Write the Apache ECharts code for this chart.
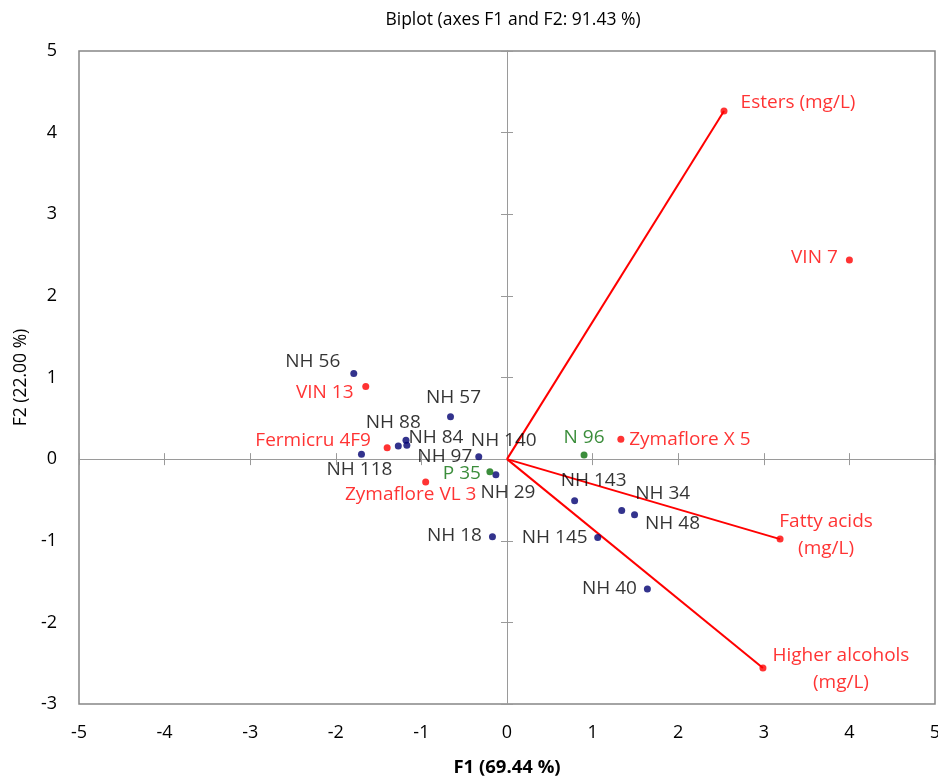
<!DOCTYPE html>
<html>
<head>
<meta charset="utf-8">
<script src="https://cdn.jsdelivr.net/npm/echarts@6/dist/echarts.min.js"></script>
<style>
html,body{margin:0;padding:0;background:#fff;}
#chart{width:938px;height:778px;}
</style>
</head>
<body>
<div id="chart"></div>
<script>
// ---- Data ----
const xTicks = [-5, -4, -3, -2, -1, 0, 1, 2, 3, 4, 5];
const yTicks = [-3, -2, -1, 0, 1, 2, 3, 4, 5];

const blueNames = ['NH 56','NH 57','NH 88','NH 84','NH 97','NH 118','NH 140','NH 29','NH 18','NH 143','NH 34','NH 48','NH 145','NH 40'];
const blueF1 = [-1.79,-0.66,-1.27,-1.18,-1.17,-1.70,-0.33,-0.13,-0.17,0.79,1.34,1.49,1.06,1.64];
const blueF2 = [1.05,0.52,0.16,0.23,0.17,0.06,0.03,-0.19,-0.95,-0.51,-0.63,-0.68,-0.96,-1.59];

const greenNames = ['P 35','N 96'];
const greenF1 = [-0.20,0.90];
const greenF2 = [-0.155,0.05];

const redNames = ['VIN 13','Fermicru 4F9','Zymaflore VL 3','Zymaflore X 5','VIN 7'];
const redF1 = [-1.65,-1.40,-0.95,1.33,4.00];
const redF2 = [0.89,0.14,-0.28,0.245,2.44];

const varNames = ['Esters (mg/L)','Fatty acids\n(mg/L)','Higher alcohols\n(mg/L)'];
const varF1 = [2.535,3.19,2.99];
const varF2 = [4.265,-0.98,-2.56];

// ---- Label placement (layout only, pixel offsets from the marker) ----
const labelOffsets = {
  'NH 56':[-41,-12],'NH 57':[3,-19],'NH 88':[-5,-23],'NH 84':[30,-3],'NH 97':[38,11],
  'NH 118':[-2,15],'NH 140':[25,-16],'NH 29':[12,18],'NH 18':[-38,-1],'NH 143':[19,-20],
  'NH 34':[41,-17],'NH 48':[38,9],'NH 145':[-43,0],'NH 40':[-38,0],
  'P 35':[-28,2],'N 96':[0,-17],
  'VIN 13':[-41,6],'Fermicru 4F9':[-74,-7],'Zymaflore VL 3':[-15,13],'Zymaflore X 5':[69,0],'VIN 7':[-35,-2],
  'Esters (mg/L)':[74,-8],'Fatty acids\n(mg/L)':[46,-4],'Higher alcohols\n(mg/L)':[78,1]
};

const FONT = '"Open Sans", "Noto Sans", sans-serif';

function items(names, xs, ys) {
  return names.map((n, i) => ({
    name: n,
    value: [xs[i], ys[i]],
    label: { offset: labelOffsets[n] || [0, 0] }
  }));
}

function pointSeries(names, xs, ys, color, labelColor) {
  return {
    type: 'scatter',
    data: items(names, xs, ys),
    symbol: 'circle',
    symbolSize: 7,
    itemStyle: { color: color },
    z: 5,
    label: {
      show: true,
      formatter: '{b}',
      position: 'inside',
      align: 'center',
      verticalAlign: 'middle',
      color: labelColor,
      textBorderWidth: 0,
      textBorderColor: 'transparent',
      fontFamily: FONT,
      fontSize: 19,
      lineHeight: 27
    },
    emphasis: { disabled: true }
  };
}

const lineSeries = varNames.map((n, i) => ({
  type: 'line',
  data: [[0, 0], [varF1[i], varF2[i]]],
  symbol: 'none',
  lineStyle: { color: '#ff0000', width: 2 },
  z: 3,
  silent: true
}));

const gridLineColor = '#9a9a9a';
const frameColor = '#868686';

function baseAxis(extra, min, max) {
  return Object.assign({
    type: 'value', min: min, max: max, interval: 1,
    splitLine: { show: false },
    axisTick: { show: false },
    axisLabel: { show: false },
    axisLine: { show: false }
  }, extra);
}

const option = {
  animation: false,
  backgroundColor: '#ffffff',
  title: {
    text: 'Biplot (axes F1 and F2: 91.43 %)',
    left: 508, top: 6,
    textAlign: 'center',
    textStyle: { fontFamily: FONT, fontSize: 17.5, fontWeight: 'normal', color: '#000' }
  },
  grid: {
    left: 79, right: 3, top: 51, bottom: 74,
    outerBoundsMode: 'none',
    containLabel: false,
    show: true, borderColor: frameColor, borderWidth: 1.5, backgroundColor: 'transparent'
  },
  xAxis: [
    baseAxis({
      position: 'bottom',
      axisLine: { show: false, onZero: false },
      axisLabel: { show: true, margin: 20, color: '#000', fontFamily: FONT, fontSize: 18,
        formatter: v => xTicks.includes(v) ? String(v) : '' },
      name: 'F1 (69.44 %)', nameLocation: 'middle', nameGap: 54,
      nameTextStyle: { fontFamily: FONT, fontSize: 18.5, fontWeight: 'bold', color: '#000' }
    }, xTicks[0], xTicks[xTicks.length - 1]),
    baseAxis({
      position: 'bottom',
      axisLine: { show: true, onZero: true, lineStyle: { color: gridLineColor, width: 1 } },
      axisTick: { show: true, inside: true, length: 6, lineStyle: { color: gridLineColor, width: 1 } }
    }, xTicks[0], xTicks[xTicks.length - 1]),
    baseAxis({
      position: 'bottom',
      axisLine: { show: true, onZero: true, lineStyle: { color: gridLineColor, width: 1 } },
      axisTick: { show: true, inside: false, length: 6, lineStyle: { color: gridLineColor, width: 1 } }
    }, xTicks[0], xTicks[xTicks.length - 1])
  ],
  yAxis: [
    baseAxis({
      position: 'left',
      axisLine: { show: false, onZero: false },
      axisLabel: { show: true, margin: 22, color: '#000', fontFamily: FONT, fontSize: 18,
        formatter: v => yTicks.includes(v) ? String(v) : '' },
      name: 'F2 (22.00 %)', nameLocation: 'middle', nameGap: 43, nameRotate: 90,
      nameTextStyle: { fontFamily: FONT, fontSize: 17.5, fontWeight: 'normal', color: '#000' }
    }, yTicks[0], yTicks[yTicks.length - 1]),
    baseAxis({
      position: 'left',
      axisLine: { show: true, onZero: true, lineStyle: { color: gridLineColor, width: 1 } },
      axisTick: { show: true, inside: true, length: 6, lineStyle: { color: gridLineColor, width: 1 } }
    }, yTicks[0], yTicks[yTicks.length - 1]),
    baseAxis({
      position: 'left',
      axisLine: { show: true, onZero: true, lineStyle: { color: gridLineColor, width: 1 } },
      axisTick: { show: true, inside: false, length: 6, lineStyle: { color: gridLineColor, width: 1 } }
    }, yTicks[0], yTicks[yTicks.length - 1])
  ],
  series: [
    ...lineSeries,
    pointSeries(varNames, varF1, varF2, '#ff0000', '#ff0000'),
    pointSeries(blueNames, blueF1, blueF2, '#000070', '#000000'),
    pointSeries(greenNames, greenF1, greenF2, '#0a700a', '#0a700a'),
    pointSeries(redNames, redF1, redF2, '#ff0000', '#ff0000')
  ]
};

const chart = echarts.init(document.getElementById('chart'), null, { renderer: 'canvas' });
chart.setOption(option);
</script>
</body>
</html>
